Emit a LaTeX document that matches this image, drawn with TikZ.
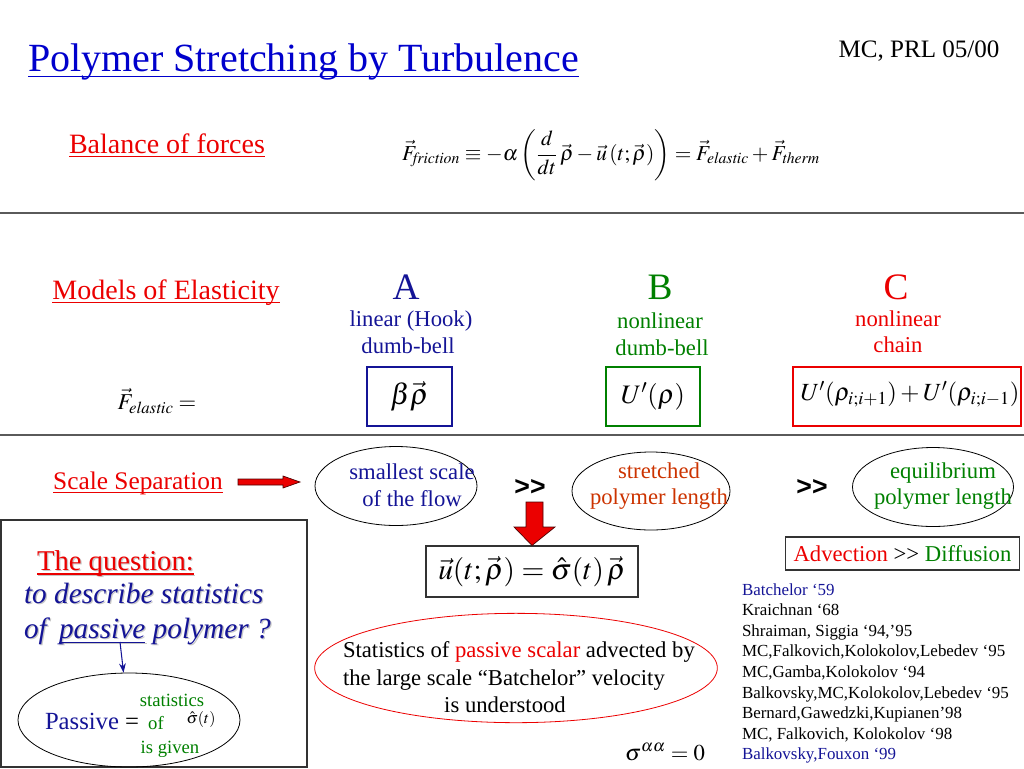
\documentclass[tikz,border=0pt]{standalone}
\usepackage{mathptmx}
\usepackage{fontspec}
\setmainfont{Liberation Serif}
\setsansfont{Liberation Sans}
\usetikzlibrary{shapes.geometric,arrows.meta}
\definecolor{navy}{RGB}{20,20,150}
\definecolor{ttlblue}{RGB}{0,0,204}
\definecolor{myred}{RGB}{235,0,0}
\definecolor{mygreen}{RGB}{0,128,0}
\definecolor{orred}{RGB}{204,51,0}
\definecolor{rulegray}{RGB}{90,90,90}
\newcommand{\ulx}[1]{\underline{\smash{#1}}}
\tikzset{
  txt/.style={inner sep=0pt, outer sep=0pt},
  head/.style={txt, text=myred, font=\fontsize{21}{25}\selectfont},
  lbl/.style={txt, font=\fontsize{17}{20}\selectfont},
  letter/.style={txt, font=\fontsize{28}{32}\selectfont},
  mbox/.style={draw, line width=0.8pt, inner sep=0pt},
  ell/.style={ellipse, draw, line width=0.6pt, inner sep=0pt},
  elltxt/.style={txt, align=center, font=\fontsize{17}{20}\selectfont},
  gg/.style={txt, font=\sffamily\bfseries\fontsize{20}{24}\selectfont},
  refs/.style={txt, anchor=base west, font=\fontsize{12.7}{15}\selectfont},
  shad/.style={txt, anchor=base west, text=black!22},
  blockarrow/.style={fill=myred, draw=black!70!red, line width=0.5pt}
}
\begin{document}
\begin{tikzpicture}[x=0.75pt,y=-0.75pt]
\useasboundingbox (0,0) rectangle (1024,768);
% title
\node[txt, anchor=base west, text=ttlblue, font=\fontsize{30}{36}\selectfont] (title) at (28,71) {\ulx{Polymer Stretching by Turbulence}};
\node[txt, anchor=base, font=\fontsize{18.8}{22}\selectfont] (mc) at (919,57) {MC, PRL 05/00};
% balance
\node[head, anchor=base] (bal) at (167,153) {\ulx{Balance of forces}};
\node[txt, font=\fontsize{16}{20}\selectfont] (eq) at (611,155) {$\displaystyle \vec F_{\mathit{friction}} \equiv -\alpha\left(\frac{d}{dt}\,\vec\rho-\vec u\left(t;\vec\rho\right)\right)=\vec F_{\mathit{elastic}}+\vec F_{\mathit{therm}}$};
\draw[rulegray, line width=0.8pt] (0,213) -- (1024,213);
% models
\node[head, anchor=base] (mod) at (166,299) {\ulx{Models of Elasticity}};
\node[letter, anchor=base, text=navy] (A) at (406,299) {A};
\node[letter, anchor=base, text=mygreen] (B) at (660,299) {B};
\node[letter, anchor=base, text=myred] (C) at (896,299) {C};
\node[lbl, anchor=base, text=navy] (a1) at (411,326) {linear (Hook)};
\node[lbl, anchor=base, text=navy] (a2) at (408,353) {dumb-bell};
\node[lbl, anchor=base, text=mygreen] (b1) at (660,328) {nonlinear};
\node[lbl, anchor=base, text=mygreen] (b2) at (662,355) {dumb-bell};
\node[lbl, anchor=base, text=myred] (c1) at (898,326) {nonlinear};
\node[lbl, anchor=base, text=myred] (c2) at (898,352) {chain};
\node[txt, font=\fontsize{17}{20}\selectfont] (fel) at (157,401) {$\vec F_{\mathit{elastic}}=$};
\node[mbox, draw=navy, minimum width=63.75pt, minimum height=44.25pt, font=\fontsize{22}{26}\selectfont] (boxA) at (409.5,396.5) {$\beta\vec\rho$};
\node[mbox, draw=mygreen, minimum width=70.5pt, minimum height=44.25pt, font=\fontsize{20}{24}\selectfont] (boxB) at (653,396.5) {$U'(\rho)$};
\node[mbox, draw=myred, minimum width=171pt, minimum height=44.25pt] (boxC) at (907,396.5) {};
\node[txt, font=\fontsize{18.5}{22}\selectfont] (cC) at (910,394) {$U'(\rho_{i;i+1})+U'(\rho_{i;i-1})$};
\draw[rulegray, line width=0.8pt] (0,435) -- (1024,435);
% scale separation
\node[head, anchor=base, font=\fontsize{19}{23}\selectfont] (scale) at (138,489) {\ulx{Scale Separation}};
\node[ell, minimum width=121.5pt, minimum height=59.25pt] (e1) at (396,486) {};
\node[elltxt, text=navy] (t1) at (412,485) {smallest scale\\of the flow};
\node[ell, minimum width=118.5pt, minimum height=58.5pt] (e2) at (651,491) {};
\node[elltxt, text=orred] (t2) at (659,486) {stretched\\polymer length};
\node[ell, minimum width=120.75pt, minimum height=59.25pt] (e3) at (933,487) {};
\node[elltxt, text=mygreen] (t3) at (943,486) {equilibrium\\polymer length};
\node[gg] (gg1) at (530,487) {>{}>};
\node[gg] (gg2) at (812,487) {>{}>};
\coordinate (sa) at (238,482);
\coordinate (sb) at (300,482);
\draw[blockarrow] (sa) ++(0,-3) -- (283,479) -- (283,476) -- (sb) -- (283,488) -- (283,485) -- (238,485) -- cycle;
\node[mbox, draw=black!80, minimum width=159pt, minimum height=38.25pt, font=\fontsize{22}{26}\selectfont] (ubox) at (532,571.5) {$\vec u(t;\vec\rho)=\hat\sigma(t)\,\vec\rho$};
\draw[blockarrow] (526,502) -- (543,502) -- (543,527) -- (555,527) -- (ubox.north) -- (514,527) -- (526,527) -- cycle;
\node[mbox, draw=black!80, minimum width=176pt, minimum height=24.75pt, font=\fontsize{17}{20}\selectfont] (adv) at (902.5,553.5) {\textcolor{myred}{Advection} >{}> \textcolor{mygreen}{Diffusion}};
% question box
\draw[black!80, line width=0.8pt] (1,520) rectangle (307,767);
\node[shad, font=\fontsize{21.5}{25}\selectfont] (qs) at (38.3,571.3) {\ulx{The question:}};
\node[txt, anchor=base west, text=myred, font=\fontsize{21.5}{25}\selectfont] (q1) at (37,570) {\ulx{The question:}};
\node[shad, font=\itshape\fontsize{22}{26}\selectfont] (q2s) at (25.3,604.3) {to describe statistics};
\node[txt, anchor=base west, text=navy, font=\itshape\fontsize{22}{26}\selectfont] (q2) at (24,603) {to describe statistics};
\node[shad, font=\itshape\fontsize{22}{26}\selectfont] (q3s) at (25.3,639.3) {of\, \ulx{passive} polymer ?};
\node[txt, anchor=base west, text=navy, font=\itshape\fontsize{22}{26}\selectfont] (q3) at (24,638) {of\, \ulx{passive} polymer ?};
\coordinate (pw) at (120,642);
\node[ellipse, draw, line width=0.6pt, minimum width=166.5pt, minimum height=70.5pt] (pe) at (129,720) {};
\draw[navy, line width=0.8pt, -{Stealth[length=7pt,width=5pt]}] (pw) -- (pe);
\node[txt, anchor=base west, font=\fontsize{18.5}{22}\selectfont] (pas) at (45,729) {\textcolor{navy}{Passive} =};
\node[txt, anchor=base, text=mygreen, font=\fontsize{14}{16}\selectfont] (st1) at (172,706) {statistics};
\node[txt, anchor=base, text=mygreen, font=\fontsize{14}{16}\selectfont] (st2) at (156,729) {of};
\node[txt, anchor=base, text=mygreen, font=\fontsize{14}{16}\selectfont] (st3) at (170,753) {is given};
\node[txt, font=\fontsize{12}{14}\selectfont] (sig) at (201,719) {$\hat\sigma(t)$};
% red ellipse
\node[ellipse, draw=myred, line width=0.6pt, minimum width=302pt, minimum height=82pt] (re) at (516,668) {};
\node[txt, anchor=base west, font=\fontsize{17}{20}\selectfont] (s1) at (343,657) {Statistics of \textcolor{myred}{passive scalar} advected by};
\node[txt, anchor=base west, font=\fontsize{17}{20}\selectfont] (s2) at (343,685) {the large scale “Batchelor” velocity};
\node[txt, anchor=base, font=\fontsize{17}{20}\selectfont] (s3) at (505,712) {is understood};
\node[txt, font=\fontsize{17}{20}\selectfont] (saa) at (665,752) {$\sigma^{\alpha\alpha}=0$};
% references
\node[refs, text=navy] (r1) at (742,595) {Batchelor ‘59};
\node[refs] (r2) at (742,615.6) {Kraichnan ‘68};
\node[refs] (r3) at (742,636.2) {Shraiman, Siggia ‘94,’95};
\node[refs] (r4) at (742,656.8) {MC,Falkovich,Kolokolov,Lebedev ‘95};
\node[refs] (r5) at (742,677.4) {MC,Gamba,Kolokolov ‘94};
\node[refs] (r6) at (742,698) {Balkovsky,MC,Kolokolov,Lebedev ‘95};
\node[refs] (r7) at (742,718.6) {Bernard,Gawedzki,Kupianen’98};
\node[refs] (r8) at (742,739.2) {MC, Falkovich, Kolokolov ‘98};
\node[refs, text=navy] (r9) at (742,759.8) {Balkovsky,Fouxon ‘99};
\end{tikzpicture}
\end{document}
